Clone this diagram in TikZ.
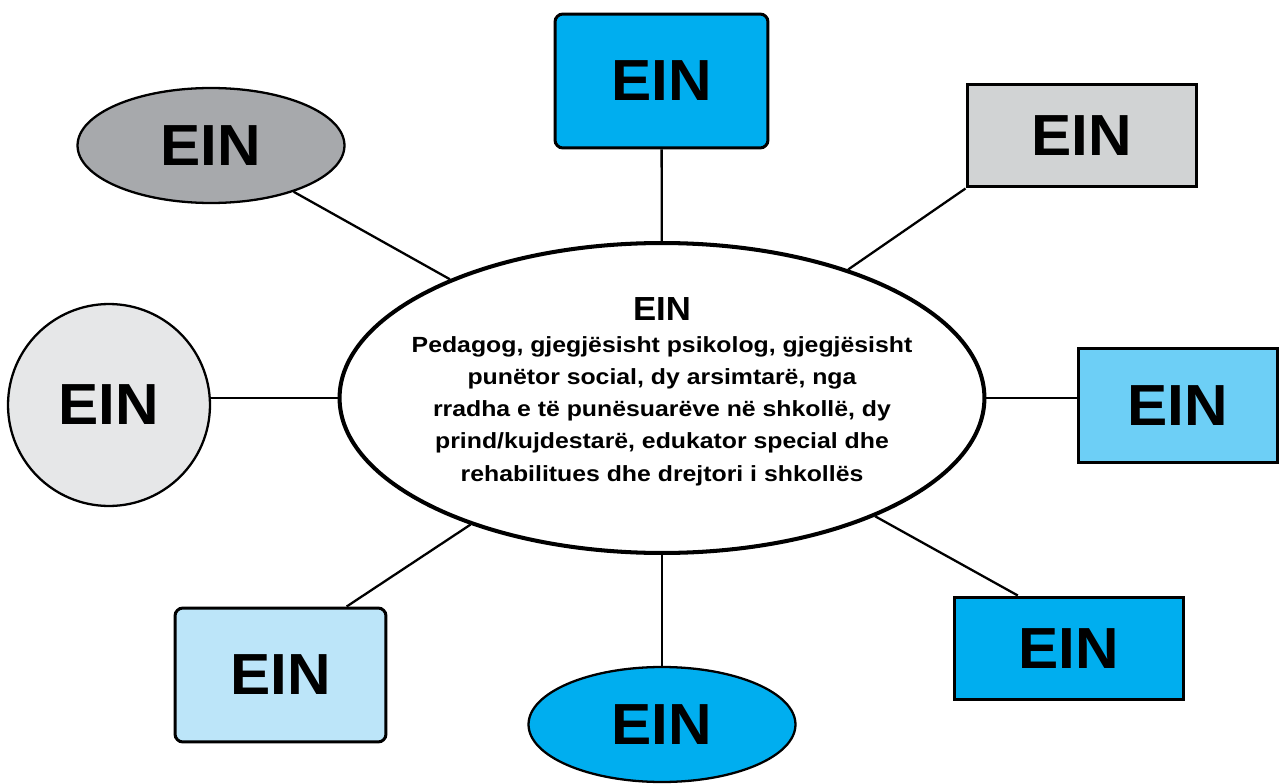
\documentclass[tikz,border=0pt]{standalone}
\usepackage{fontspec}
\setmainfont{Liberation Sans}[FakeStretch=1.04]
\newfontfamily\texlarge{Liberation Sans}[FakeStretch=1.13]
\usetikzlibrary{shapes.geometric}

\definecolor{cyanein}{HTML}{00AEEF}
\definecolor{bleumoyen}{HTML}{6DCFF6}
\definecolor{bleuclair}{HTML}{BCE5F9}
\definecolor{grisclair}{HTML}{D1D3D4}
\definecolor{grispale}{HTML}{E6E7E8}
\definecolor{grisfonce}{HTML}{A7A9AC}

\tikzset{ein/.style = {draw, line width=1.7pt, inner sep=0pt,
                       font=\bfseries\fontsize{33}{38}\selectfont},
         boite/.style = {ein, rectangle, minimum width=#1},
         boite/.default=4.6cm,
         bulle/.style = {ein, ellipse, line width=1.3pt, minimum width=#1, minimum height=2.3cm},
         bulle/.default=5.34cm,
         centre/.style = {draw, ellipse, line width=2.3pt, fill=white, inner ysep=0pt, inner xsep=-0.7cm,
                          minimum width=12.9cm, minimum height=6.2cm, align=center,
                          font=\texlarge\bfseries\fontsize{12.5}{18.3}\selectfont},
         lien/.style = {line width=1.3pt}
        }

\begin{document}
\begin{tikzpicture}[x=0.02cm,y=-0.02cm]
\useasboundingbox (0,0) rectangle (1279,784);
\node[centre] at (662,398) (c) {{\normalfont\bfseries\fontsize{19}{18.3}\selectfont EIN}\\
  Pedagog, gjegjësisht psikolog, gjegjësisht\\
  punëtor social, dy arsimtarë, nga\\
  rradha e të punësuarëve në shkollë, dy\\
  prind/kujdestarë, edukator special dhe\\
  rehabilitues dhe drejtori i shkollës\rule[-10pt]{0pt}{0pt}};
\node[boite=4.26cm, rounded corners=4.5pt, minimum height=2.68cm, fill=cyanein] at (661.5,81) (h) {EIN};
\node[boite, minimum height=2.06cm, fill=grisclair] at (1082,135.5) (hd) {EIN};
\node[boite=4.0cm, minimum height=2.3cm, fill=bleumoyen] at (1178,405.5) (d) {EIN};
\node[boite, minimum height=2.06cm, fill=cyanein] at (1069,648.5) (bd) {EIN};
\node[bulle, fill=cyanein] at (662,724.5) (b) {EIN};
\node[boite=4.22cm, rounded corners=4.5pt, minimum height=2.68cm, fill=bleuclair] at (280.5,675) (bg) {EIN};
\node[ein, circle, line width=1.3pt, minimum size=4.04cm, fill=grispale] at (109,405) (g) {EIN};
\node[bulle, fill=grisfonce] at (211,145.5) (hg) {EIN};
\draw[lien] (c) -- (h);
\draw[lien] (c) -- (hd.south west);
\draw[lien] (c.east) -- (d.west |- c.east);
\draw[lien] (c) -- (bd.134);
\draw[lien] (c) -- (b);
\draw[lien] (c) -- (bg.46);
\draw[lien] (c.west) -- (g.east |- c.west);
\draw[lien] (c) -- (hg);
\end{tikzpicture}
\end{document}
